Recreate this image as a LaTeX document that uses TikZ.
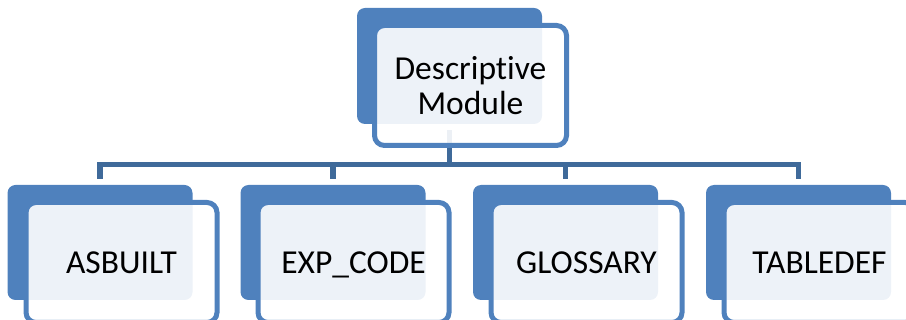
\documentclass[tikz,border=0pt]{standalone}
\usepackage{fontspec}
\setmainfont[Ligatures=NoCommon]{Carlito}
\definecolor{accent}{HTML}{4F81BD}
\definecolor{connc}{HTML}{3F6A9A}
\begin{document}
\begin{tikzpicture}[x=1pt,y=-1pt,
  backbox/.style={rectangle, rounded corners=8pt, fill=accent, minimum width=185pt,
    minimum height=116pt, inner sep=0pt, outer sep=0pt},
  frontbox/.style={rectangle, rounded corners=10pt, draw=accent, line width=5pt,
    fill=white, fill opacity=0.9, text opacity=1, minimum width=191pt,
    minimum height=120pt, inner sep=0pt, outer sep=0pt, align=center,
    font=\fontsize{33.5}{35}\selectfont},
  leaf/.style={frontbox, text depth=0pt},
  conn/.style={draw=connc, line width=5.5pt}]
\useasboundingbox (0,0) rectangle (906,320);
\clip (0,0) rectangle (906,320);
% back boxes
\node[backbox] (topback) at (449.5,66) {};
\node[backbox, minimum height=115pt] (b1) at (100,242.5) {};
\node[backbox, minimum height=115pt] (b2) at (333,242.5) {};
\node[backbox, minimum height=115pt] (b3) at (565.5,242.5) {};
\node[backbox, minimum height=115pt] (b4) at (798.5,242.5) {};
% connectors
\coordinate (bus) at (449.5,164.5);
\draw[conn] ([yshift=-6pt]topback.south) -- (bus);
\draw[conn] ([yshift=6pt]b1.north) |- (bus) -| ([yshift=6pt]b4.north);
\draw[conn] ([yshift=6pt]b2.north) -- (b2.north |- bus);
\draw[conn] ([yshift=6pt]b3.north) -- (b3.north |- bus);
% front boxes
\node[frontbox, minimum width=192pt] (topfront) at (470.5,85.5) {Descriptive\\Module};
\node[leaf] (f1) at (121.5,262.5) {ASBUILT};
\node[leaf] (f2) at (353.5,262.5) {EXP\_CODE};
\node[leaf] (f3) at (586.5,262.5) {GLOSSARY};
\node[leaf] (f4) at (819.5,262.5) {TABLEDEF};
\end{tikzpicture}
\end{document}
